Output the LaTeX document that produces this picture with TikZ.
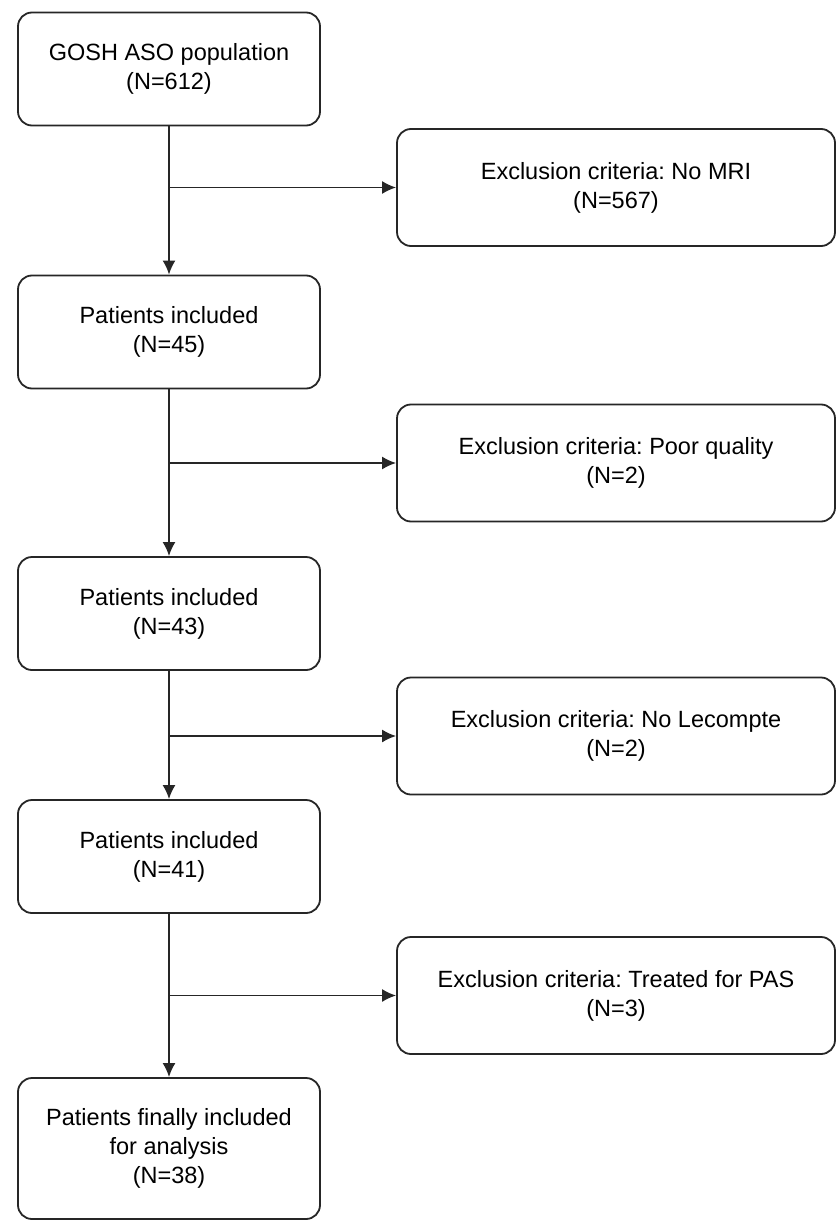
\documentclass[tikz,border=0pt]{standalone}
\usepackage{fontspec}
\setmainfont{Liberation Sans}
\frenchspacing
\usetikzlibrary{arrows.meta}
\begin{document}
\begin{tikzpicture}
    [x=1pt, y=-1pt, line width=1.8pt,
    box/.style={draw=black!85, rounded corners=14pt, align=center, inner sep=0pt,
      font=\fontsize{23.5}{29}\selectfont},
    incbox/.style={box, minimum width=302pt, minimum height=113pt},
    excbox/.style={box, minimum width=438pt, minimum height=117pt},
    arr/.style={draw=black!85, -{Latex[length=14pt,width=13pt]}}]
    \useasboundingbox (0,0) rectangle (837,1222);
    \node[incbox] (pop) at (169,69) {GOSH ASO population\\(N=612)};
    \node[excbox] (exc1) at (616,187.5) {Exclusion criteria: No MRI\\(N=567)};
    \node[incbox] (inc1) at (169,332) {Patients included\\(N=45)};
    \node[excbox] (exc2) at (616,463) {Exclusion criteria: Poor quality\\(N=2)};
    \node[incbox] (inc2) at (169,613.5) {Patients included\\(N=43)};
    \node[excbox] (exc3) at (616,736) {Exclusion criteria: No Lecompte\\(N=2)};
    \node[incbox] (inc3) at (169,856.5) {Patients included\\(N=41)};
    \node[excbox] (exc4) at (616,995.5) {Exclusion criteria: Treated for PAS\\(N=3)};
    \node[incbox, minimum height=141pt] (fin) at (169,1148.5)
      {Patients finally included\\for analysis\\(N=38)};
    \draw[arr] (pop) -- (inc1);
    \draw[arr] (pop.south |- exc1.west) -- (exc1.west);
    \draw[arr] (inc1) -- (inc2);
    \draw[arr] (inc1.south |- exc2.west) -- (exc2.west);
    \draw[arr] (inc2) -- (inc3);
    \draw[arr] (inc2.south |- exc3.west) -- (exc3.west);
    \draw[arr] (inc3) -- (fin);
    \draw[arr] (inc3.south |- exc4.west) -- (exc4.west);
\end{tikzpicture}
\end{document}
